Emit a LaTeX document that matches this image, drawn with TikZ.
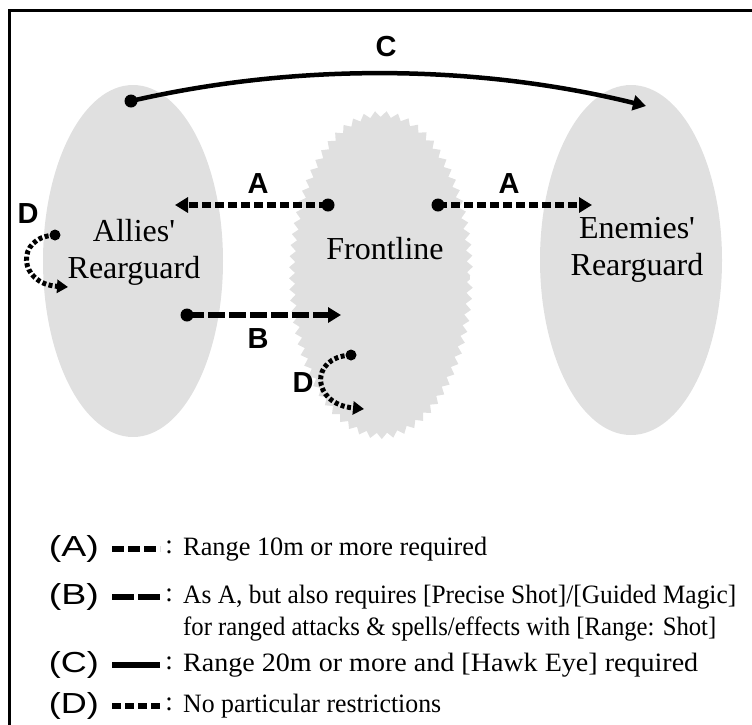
\documentclass[tikz,border=0pt]{standalone}
\usepackage{fontspec}
\usepackage{graphicx}
\setmainfont{Liberation Serif}
\newfontfamily\sansf{Liberation Sans}
\usetikzlibrary{arrows.meta,shapes.geometric,decorations.pathmorphing}
\definecolor{zonegray}{RGB}{224,224,224}
\newcommand{\fitw}[2]{\resizebox{#1}{\height}{#2}}
\begin{document}
\begin{tikzpicture}[x=1pt,y=-1pt,
  zone/.style={ellipse, fill=zonegray, inner sep=0pt},
  dot/.style={circle, fill=black, inner sep=0pt, minimum size=13pt},
  smalldot/.style={circle, fill=black, inner sep=0pt, minimum size=11pt},
  lbl/.style={font=\sansf\bfseries\fontsize{29}{29}\selectfont, inner sep=0pt},
  area/.style={font=\fontsize{32}{37}\selectfont, align=center, inner sep=0pt},
  tipA/.style={-{Triangle[length=13pt,width=15pt]}},
  mvA/.style={line width=5.5pt, dash pattern=on 9pt off 4pt, tipA},
  mvB/.style={line width=5.5pt, dash pattern=on 17pt off 4pt, tipA},
  mvC/.style={line width=4.5pt, tipA},
  mvD/.style={line width=5pt, dash pattern=on 4pt off 2.5pt, -{Triangle[length=11pt,width=13pt]}},
  key/.style={anchor=east, font=\sansf\fontsize{29}{29}\selectfont, inner sep=0pt},
  colon/.style={font=\fontsize{27}{30}\selectfont, inner sep=0pt},
  legtext/.style={anchor=west, font=\fontsize{26.5}{32}\selectfont, inner sep=0pt},
  sample/.style={line width=6.5pt}
]
\useasboundingbox (0,0) rectangle (752,724);
\draw[line width=3pt] (9,10) rectangle (780,760);

% zones
\node[zone, minimum width=180pt, minimum height=352pt] (allies) at (133,261) {};
\node[zone, minimum width=182pt, minimum height=350pt] (enemies) at (631,260) {};
\node[zone, minimum width=178pt, minimum height=322pt, decorate,
      decoration={zigzag, segment length=11pt, amplitude=3pt}] (front) at (381,275) {};

% zone texts
\node[area] (tAllies) at (134,252) {Allies\textquotesingle\\Rearguard};
\node[area] (tFront) at (385,249) {Frontline};
\node[area] (tEnemies) at (637,250) {Enemies\textquotesingle\\Rearguard};

% C
\node[dot] (cS) at (131,101) {};
\coordinate (cE) at (646,106);
\draw[mvC] (cS.center) .. controls (300,62) and (480,65) .. (cE);
\node[lbl] (lC) at (386,47) {C};

% A left
\node[dot] (a1S) at (328,205) {};
\coordinate (a1E) at (175,205);
\draw[mvA] (a1S.center) -- (a1E);
\node[lbl] (lA1) at (258,184) {A};

% A right
\node[dot] (a2S) at (438,205) {};
\coordinate (a2E) at (592,205);
\draw[mvA] (a2S.center) -- (a2E);
\node[lbl] (lA2) at (509,184) {A};

% B
\node[dot] (bS) at (187,315) {};
\coordinate (bE) at (341,315);
\draw[mvB] (bS.center) -- (bE);
\node[lbl] (lB) at (258,339) {B};

% D left
\node[smalldot] (d1S) at (55,235) {};
\coordinate (d1E) at (68,287);
\draw[mvD] (d1S.center) .. controls (15,237) and (18,284) .. (d1E);
\node[lbl] (lD1) at (28,214) {D};

% D middle
\node[smalldot] (d2S) at (351,355) {};
\coordinate (d2E) at (364,409);
\draw[mvD] (d2S.center) .. controls (309,357) and (311,404) .. (d2E);
\node[lbl] (lD2) at (303,383) {D};

% legend
\node[key] (kA) at (99,549) {\fitw{50pt}{(A)}};
\coordinate (sA1) at (112,549); \coordinate (sA2) at (160,549);
\draw[sample, dash pattern=on 12pt off 4pt] (sA1) -- (sA2);
\node[colon] (cA) at (169,547) {:};
\node[legtext] (xA) at (183,549) {\fitw{304pt}{Range 10m or more required}};

\node[key] (kB) at (99,597) {\fitw{50pt}{(B)}};
\coordinate (sB1) at (112,597); \coordinate (sB2) at (160,597);
\draw[sample, dash pattern=on 22pt off 4pt] (sB1) -- (sB2);
\node[colon] (cB) at (169,595) {:};
\node[legtext] (xB1) at (183,597) {\fitw{553pt}{As A, but also requires [Precise Shot]/[Guided Magic]}};
\node[legtext] (xB2) at (183,629) {\fitw{533pt}{for ranged attacks \& spells/effects with [Range: Shot]}};

\node[key] (kC) at (99,665) {\fitw{50pt}{(C)}};
\coordinate (sC1) at (112,665); \coordinate (sC2) at (160,665);
\draw[sample] (sC1) -- (sC2);
\node[colon] (cC) at (169,663) {:};
\node[legtext] (xC) at (183,665) {\fitw{515pt}{Range 20m or more and [Hawk Eye] required}};

\node[key] (kD) at (99,706) {\fitw{50pt}{(D)}};
\coordinate (sD1) at (112,706); \coordinate (sD2) at (160,706);
\draw[sample, dash pattern=on 9pt off 4pt] (sD1) -- (sD2);
\node[colon] (cD) at (169,704) {:};
\node[legtext] (xD) at (183,706) {\fitw{258pt}{No particular restrictions}};
\end{tikzpicture}
\end{document}
